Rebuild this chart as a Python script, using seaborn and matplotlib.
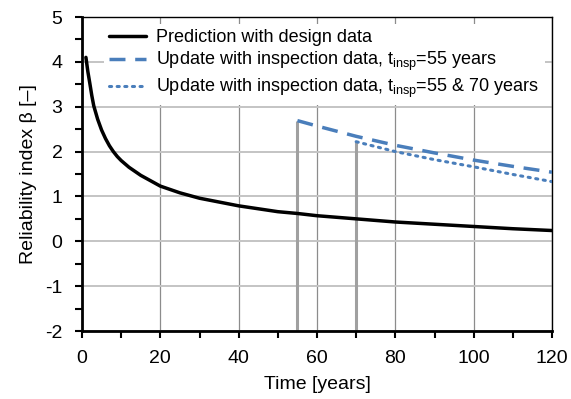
import numpy as np
import pandas as pd
import matplotlib
matplotlib.use("Agg")
import matplotlib.pyplot as plt
import seaborn as sns
from matplotlib.ticker import MultipleLocator

# ---- data ----
t_design = [1, 1.5, 2, 2.5, 3, 4, 5, 6, 7, 8, 9, 10, 12, 15, 20, 25, 30, 40, 50, 55, 60, 70, 80, 90, 100, 110, 120]
b_design = [4.1, 3.78, 3.52, 3.25, 3.02, 2.72, 2.48, 2.29, 2.13, 2.0, 1.89, 1.80, 1.65, 1.47, 1.23, 1.08, 0.96, 0.79, 0.66, 0.62, 0.57, 0.50, 0.43, 0.38, 0.33, 0.28, 0.24]

t_upd1 = [55, 60, 70, 80, 90, 100, 110, 120]
b_upd1 = [2.69, 2.57, 2.34, 2.14, 1.97, 1.81, 1.67, 1.54]

t_upd2 = [70, 80, 90, 100, 110, 120]
b_upd2 = [2.22, 2.00, 1.82, 1.66, 1.49, 1.33]

t_insp = [55, 70]
b_insp_top = [2.69, 2.22]

labels = [
    "Prediction with design data",
    r"Update with inspection data, t$_{\mathregular{insp}}$=55 years",
    r"Update with inspection data, t$_{\mathregular{insp}}$=55 & 70 years",
]
x_ticks = [0, 20, 40, 60, 80, 100, 120]
y_ticks = [-2, -1, 0, 1, 2, 3, 4, 5]

sns.set_theme(style="white")
plt.rcParams["font.family"] = ["Liberation Sans", "DejaVu Sans"]
plt.rcParams["mathtext.fontset"] = "custom"
plt.rcParams["mathtext.rm"] = "Liberation Sans"
plt.rcParams["mathtext.it"] = "Liberation Sans"
plt.rcParams["axes.unicode_minus"] = False
plt.rcParams["text.color"] = "black"
plt.rcParams["axes.labelcolor"] = "black"

fig = plt.figure(figsize=(5.71, 3.99), dpi=100)
ax = fig.add_axes([82 / 571, 1 - 331 / 399, (552 - 82) / 571, (331 - 17) / 399])

blue = "#4a7ebb"
grey = "#a0a0a0"

# inspection markers (vertical grey lines)
for t, b in zip(t_insp, b_insp_top):
    ax.plot([t, t], [-2, b], color=grey, lw=2.2, zorder=2, solid_capstyle="butt")

df1 = pd.DataFrame({"t": t_design, "b": b_design})
df2 = pd.DataFrame({"t": t_upd1, "b": b_upd1})
df3 = pd.DataFrame({"t": t_upd2, "b": b_upd2})

sns.lineplot(data=df1, x="t", y="b", ax=ax, color="black", lw=2.5, label=labels[0], zorder=4)
sns.lineplot(data=df2, x="t", y="b", ax=ax, color=blue, lw=2.5, label=labels[1], zorder=4)
sns.lineplot(data=df3, x="t", y="b", ax=ax, color=blue, lw=2.2, label=labels[2], zorder=4)
lines = ax.get_lines()
lines[-2].set_dashes([4.6, 2.8])
lines[-1].set_dashes([0.7, 1.8])
lines[-1].set_dash_capstyle("round")

ax.set_xlim(0, 120)
ax.set_ylim(-2, 5)
ax.set_xticks(x_ticks)
ax.set_yticks(y_ticks)
ax.xaxis.set_minor_locator(MultipleLocator(10))
ax.yaxis.set_minor_locator(MultipleLocator(0.5))
ax.xaxis.grid(True, which="major", color="#8c8c8c", lw=0.9, zorder=0)
ax.yaxis.grid(True, which="major", color="#c4c4c4", lw=1.4, zorder=0)
ax.set_axisbelow(True)

ax.tick_params(axis="both", which="both", direction="out", length=5, width=1.5,
               colors="black", labelsize=14, pad=9)
ax.tick_params(bottom=True, left=True, which="both")

for side in ["left", "bottom"]:
    ax.spines[side].set_linewidth(2.0)
    ax.spines[side].set_color("black")
for side in ["top", "right"]:
    ax.spines[side].set_linewidth(1.0)
    ax.spines[side].set_color("black")
    ax.spines[side].set_visible(True)

ax.set_xlabel("Time [years]", fontsize=14, labelpad=6)
ax.set_ylabel("Reliability index β [–]", fontsize=14, labelpad=6)

leg = ax.legend(loc="upper left", bbox_to_anchor=(104 / 571, 1 - 24 / 399),
                bbox_transform=fig.transFigure, fontsize=13, frameon=True,
                framealpha=1, facecolor="white", edgecolor="none", fancybox=False,
                borderpad=0.3, labelspacing=0.2, handlelength=2.05,
                handletextpad=0.55, borderaxespad=0)
leg.set_zorder(5)
for txt in leg.get_texts():
    txt.set_color("black")

fig.savefig("out.png", dpi=100)
